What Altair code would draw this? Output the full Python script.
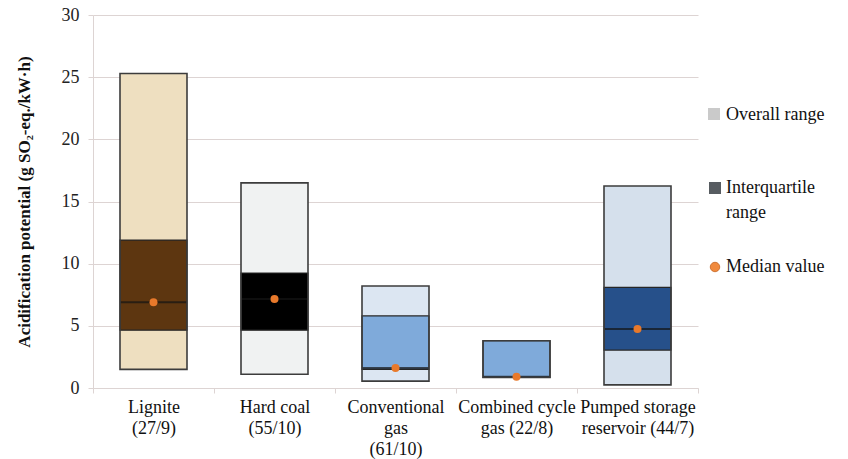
import altair as alt
import pandas as pd

# Technologies (number of studies / number of values)
categories = [
    "Lignite\n(27/9)",
    "Hard coal\n(55/10)",
    "Conventional\ngas\n(61/10)",
    "Combined cycle\ngas (22/8)",
    "Pumped storage\nreservoir (44/7)",
]
# Acidification potential, g SO2-eq./kWh
range_low = [1.5, 1.1, 0.55, 0.85, 0.25]
quartile_low = [4.65, 4.65, 1.5, 0.85, 3.05]
median_value = [6.9, 7.15, 1.6, 0.9, 4.75]
quartile_high = [11.9, 9.25, 5.8, 3.8, 8.1]
range_high = [25.3, 16.5, 8.2, 3.8, 16.25]

# Fill colours per technology
overall_fill = ["#EEDFC0", "#F0F2F2", "#DCE6F2", "#7FAADA", "#D5E0EC"]
iqr_fill = ["#5D3610", "#000000", "#7FAADA", "#7FAADA", "#26508A"]

df = pd.DataFrame({
    "tech": categories,
    "low": range_low,
    "q1": quartile_low,
    "median": median_value,
    "q3": quartile_high,
    "high": range_high,
})

SERIF = "Liberation Serif"
BAR_W = 67
GRID = "#DDD4D3"

x_enc = alt.X(
    "tech:N",
    sort=categories,
    scale=alt.Scale(paddingInner=0, paddingOuter=0),
    axis=alt.Axis(
        title=None,
        labelAngle=0,
        labelExpr="split(datum.label, '\\n')",
        labelFont=SERIF,
        labelFontSize=18,
        labelLineHeight=21,
        labelColor="#111111",
        labelPadding=5,
        tickBand="extent",
        tickSize=5,
        tickColor=GRID,
        domainColor=GRID,
        labelBaseline="top",
    ),
)

y_scale = alt.Scale(domain=[0, 30])
y_axis = alt.Axis(
    values=[0, 5, 10, 15, 20, 25, 30],
    grid=True,
    gridColor=GRID,
    domainColor=GRID,
    tickColor=GRID,
    tickSize=5,
    labelFont=SERIF,
    labelFontSize=18,
    labelColor="#222222",
    labelPadding=9,
    title="Acidification potential (g SO₂-eq./kW·h)",
    titleFont=SERIF,
    titleFontSize=17,
    titleFontWeight="bold",
    titleColor="#111111",
    titlePadding=28,
)


def y_of(field):
    return alt.Y(field, type="quantitative", scale=y_scale, axis=y_axis)


base = alt.Chart(df).encode(x=x_enc)

overall = base.mark_bar(width=BAR_W).encode(
    y=y_of("low"),
    y2="high:Q",
    color=alt.Color("tech:N", scale=alt.Scale(domain=categories, range=overall_fill), legend=None),
)

iqr = base.mark_bar(width=BAR_W, stroke="#262626", strokeWidth=1.2).encode(
    y=y_of("q1"),
    y2="q3:Q",
    fill=alt.Fill("tech:N", scale=alt.Scale(domain=categories, range=iqr_fill), legend=None),
)

median_line = base.mark_tick(size=BAR_W, thickness=2, color="#141414", orient="horizontal").encode(
    y=y_of("median"),
)

outline = base.mark_bar(width=BAR_W, fillOpacity=0, stroke="#3C3C3C", strokeWidth=1.6).encode(
    y=y_of("low"),
    y2="high:Q",
)

dots = base.mark_circle(size=64, color="#E8792B", opacity=1).encode(
    y=y_of("median"),
)

# Legend drawn beside the plot
one = pd.DataFrame({"k": [0]})
leg_font = dict(font=SERIF, fontSize=18, color="#111111", align="left", baseline="middle")

leg_overall_sw = alt.Chart(one).mark_square(size=144, color="#CACACA", opacity=1).encode(
    x=alt.value(621), y=alt.value(99))
leg_overall_tx = alt.Chart(one).mark_text(**leg_font).encode(
    x=alt.value(633), y=alt.value(100), text=alt.value("Overall range"))
leg_iqr_sw = alt.Chart(one).mark_square(size=144, color="#575C61", opacity=1).encode(
    x=alt.value(622), y=alt.value(173))
leg_iqr_tx1 = alt.Chart(one).mark_text(**leg_font).encode(
    x=alt.value(633), y=alt.value(173), text=alt.value("Interquartile"))
leg_iqr_tx2 = alt.Chart(one).mark_text(**leg_font).encode(
    x=alt.value(633), y=alt.value(198), text=alt.value("range"))
leg_med_sw = alt.Chart(one).mark_circle(size=90, color="#F08A3E", stroke="#C4621E", strokeWidth=0.8, opacity=1).encode(
    x=alt.value(622), y=alt.value(252))
leg_med_tx = alt.Chart(one).mark_text(**leg_font).encode(
    x=alt.value(633), y=alt.value(252), text=alt.value("Median value"))

chart = alt.layer(
    overall, iqr, median_line, outline, dots,
    leg_overall_sw, leg_overall_tx, leg_iqr_sw, leg_iqr_tx1, leg_iqr_tx2, leg_med_sw, leg_med_tx,
).resolve_scale(
    color="independent", fill="independent"
).properties(
    width=605,
    height=373,
    autosize=alt.AutoSizeParams(type="none"),
    padding={"left": 93, "top": 15, "right": 150, "bottom": 71},
    background="white",
).configure_view(stroke=None)

chart.save("out.html", embed_options={"renderer": "svg", "actions": False})
